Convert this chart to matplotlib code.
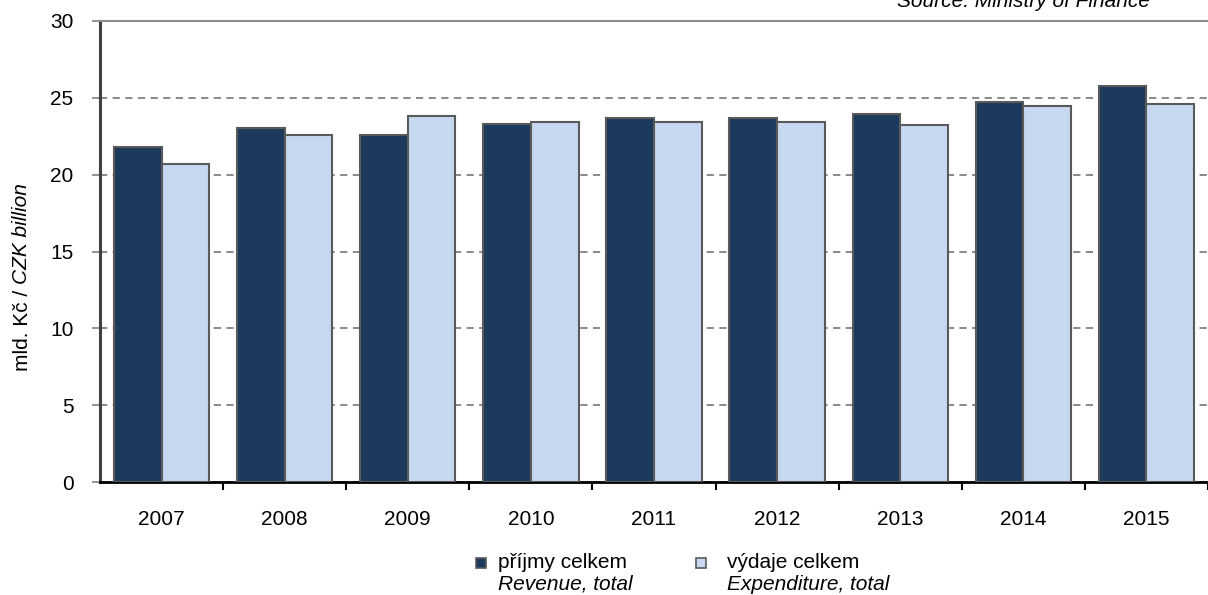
import numpy as np
import matplotlib.pyplot as plt
from matplotlib.patches import Rectangle

plt.rcParams['font.family'] = ['Liberation Sans', 'DejaVu Sans']

years = ["2007", "2008", "2009", "2010", "2011", "2012", "2013", "2014", "2015"]
revenue = [21.8, 23.05, 22.55, 23.3, 23.7, 23.7, 23.95, 24.75, 25.8]
expenditure = [20.7, 22.55, 23.85, 23.45, 23.45, 23.45, 23.2, 24.5, 24.6]

c_rev = "#1B3A5E"
c_exp = "#C6D9F0"
edge = "#5A5A5A"

W, H = 1208, 595
fig = plt.figure(figsize=(W / 100, H / 100), dpi=100)
# axes in pixel terms: left 100, right past the figure edge, top 21, bottom 482
ax = fig.add_axes([100 / W, (H - 482) / H, 1108 / W, (482 - 21) / H])

x = np.arange(len(years))
bw = 0.387
ax.bar(x - bw / 2, revenue, bw, color=c_rev, edgecolor=edge, linewidth=1.5, zorder=3)
ax.bar(x + bw / 2, expenditure, bw, color=c_exp, edgecolor=edge, linewidth=1.5, zorder=3)

ax.set_xlim(-0.5, -0.5 + 1108 / 124.2)
ax.set_ylim(0, 30)
ax.set_yticks([0, 5, 10, 15, 20, 25, 30])
ax.yaxis.grid(True, color="#808080", linestyle=(0, (4, 3)), linewidth=1.3, zorder=0)
ax.set_axisbelow(True)

ax.set_xticks(x)
ax.set_xticklabels(years, fontsize=15)
ax.set_xticks(np.arange(len(years)) + 0.5, minor=True)
ax.tick_params(axis="x", which="major", length=0, pad=20)
ax.tick_params(axis="x", which="minor", length=6, width=1.5, color="black", direction="out")
ax.tick_params(axis="y", length=6, width=1.2, color="#808080", labelsize=15, pad=13)

ax.spines["right"].set_visible(False)
ax.spines["top"].set_color("#8C8C8C")
ax.spines["top"].set_linewidth(1.5)
ax.spines["left"].set_color("#404040")
ax.spines["left"].set_linewidth(2.2)
ax.spines["bottom"].set_color("black")
ax.spines["bottom"].set_linewidth(2)

# y label, mixed styles
fig.canvas.draw()
r = fig.canvas.get_renderer()
t1 = fig.text(22 / W, (H - 371) / H, "mld. Kč / ", rotation=90, fontsize=15,
              ha="center", va="bottom")
bb = t1.get_window_extent(r)
fig.text(22 / W, bb.y1 / H, "CZK billion", rotation=90, fontsize=15,
         style="italic", ha="center", va="bottom")

# source note, cut at the top edge
fig.text(1150 / W, (H - 7) / H, "Source: Ministry of Finance", fontsize=15,
         style="italic", ha="right", va="baseline")

# legend
sq = 10
for cx, tx, col, l1, l2 in [(481, 498, c_rev, "příjmy celkem", "Revenue, total"),
                            (701, 727, c_exp, "výdaje celkem", "Expenditure, total")]:
    fig.patches.append(Rectangle(((cx - sq / 2) / W, (H - 563 - sq / 2) / H), sq / W, sq / H,
                                 facecolor=col, edgecolor=edge, linewidth=1.2,
                                 transform=fig.transFigure, figure=fig))
    fig.text(tx / W, (H - 563) / H, l1, fontsize=15, ha="left", va="center")
    fig.text(tx / W, (H - 584) / H, l2, fontsize=15, style="italic", ha="left", va="center")

fig.savefig("out.png", dpi=100)
